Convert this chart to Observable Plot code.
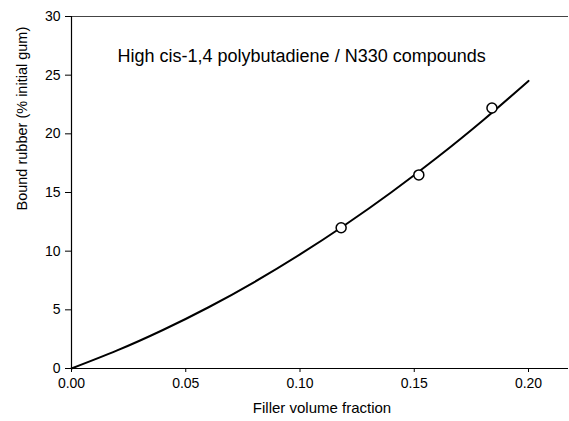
<!DOCTYPE html>
<html>
<head>
<meta charset="utf-8">
<script src="https://cdn.jsdelivr.net/npm/d3@7"></script>
<script src="https://cdn.jsdelivr.net/npm/@observablehq/plot@0.6"></script>
<style>
  html, body { margin: 0; padding: 0; background: #fff; }
</style>
</head>
<body>
<div id="chart"></div>
<script>
// Measured data points
const pointX = [0.118, 0.152, 0.184];
const pointY = [12.0, 16.5, 22.2];

// Fitted curve
const curveX = [0, 0.02, 0.04, 0.06, 0.08, 0.10, 0.12, 0.14, 0.16, 0.18, 0.20];
const curveY = [0, 1.54, 3.28, 5.22, 7.37, 9.72, 12.27, 15.02, 17.98, 21.14, 24.51];

// Axis ticks
const xTicks = [0, 0.05, 0.10, 0.15, 0.20];
const xTickLabels = ["0.00", "0.05", "0.10", "0.15", "0.20"];
const yTicks = [0, 5, 10, 15, 20, 25, 30];
const yTickLabels = ["0", "5", "10", "15", "20", "25", "30"];

const title = "High cis-1,4 polybutadiene / N330 compounds";
const xLabel = "Filler volume fraction";
const yLabel = "Bound rubber (% initial gum)";

const points = pointX.map((x, i) => ({x, y: pointY[i]}));
const curve = curveX.map((x, i) => ({x, y: curveY[i]}));

const chart = Plot.plot({
  width: 569,
  height: 421,
  marginLeft: 71,
  marginRight: 1,
  marginTop: 16,
  marginBottom: 53,
  style: {fontFamily: "'Liberation Sans', Arial, sans-serif", fontSize: "14px", color: "#000", background: "#fff"},
  x: {domain: [0, 0.2175]},
  y: {domain: [0, 30]},
  marks: [
    Plot.axisX({ticks: xTicks, tickFormat: (d, i) => xTickLabels[i], tickSize: 4, tickPadding: 6,
      label: null, fontSize: 14}),
    Plot.axisY({ticks: yTicks, tickFormat: (d, i) => yTickLabels[i], tickSize: 6, tickPadding: 5,
      label: null, fontSize: 14}),
    Plot.ruleY([30], {stroke: "#444", strokeWidth: 1.2}),
    Plot.ruleY([0], {stroke: "#000", strokeWidth: 1.2}),
    Plot.ruleX([0], {stroke: "#000", strokeWidth: 1.2}),
    Plot.line(curve, {x: "x", y: "y", curve: "natural", stroke: "#000", strokeWidth: 2}),
    Plot.dot(points, {x: "x", y: "y", r: 5, stroke: "#000", strokeWidth: 1.5, fill: "#fff"}),
    Plot.text([title], {frameAnchor: "top-left", dx: 46, dy: 33, textAnchor: "start", fontSize: 18}),
    Plot.text([xLabel], {frameAnchor: "bottom", dx: 2, dy: 44, fontSize: 15}),
    Plot.text([yLabel], {frameAnchor: "left", rotate: -90, dx: -49, dy: 18, fontSize: 14.5})
  ]
});
document.getElementById("chart").appendChild(chart);
</script>
</body>
</html>
